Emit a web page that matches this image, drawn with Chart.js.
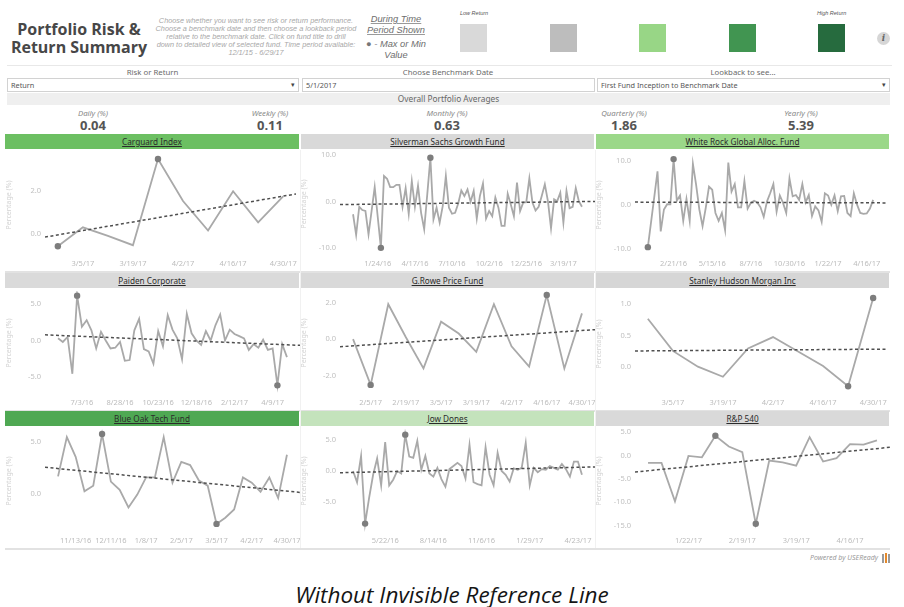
<!DOCTYPE html>
<html>
<head>
<meta charset="utf-8">
<script src="https://cdn.jsdelivr.net/npm/chart.js@4.4.1/dist/chart.umd.min.js"></script>
<style>
body{margin:0;background:#fff;width:904px;height:607px;position:relative;overflow:hidden;font-family:"Noto Sans",sans-serif;}
.a{position:absolute;}
#title{left:5px;top:20px;width:148px;text-align:center;font:bold 16px/18px "Open Sans";color:#474747;}
#desc{left:150px;top:16.5px;width:212px;text-align:center;font:italic 7.3px/8.2px "Liberation Sans";color:#a8a8a8;white-space:nowrap;}
#period{left:356px;top:14px;width:80px;text-align:center;font:italic 9.3px/10.5px "Liberation Sans";color:#6e6e6e;}
#period u{text-decoration-color:#9a9a9a;}
.lg{top:24px;width:27px;height:28px;}
.lgt{top:10px;font:italic 5.5px "Liberation Sans";color:#555;white-space:nowrap;}
#info{left:877px;top:32px;width:13px;height:13px;border-radius:50%;background:#d6d6d6;text-align:center;font:italic bold 9px/13px "DejaVu Serif";color:#666;}
.flab{top:67px;font:7.8px/10px "Noto Sans";color:#6a6a6a;text-align:center;}
.inp{top:78px;height:12px;border:1px solid #d2d2d2;font:7.3px/12px "Noto Sans";color:#555;padding-left:3px;box-sizing:content-box;}
.inp span{position:absolute;right:3px;top:0;font-size:7px;color:#444;}
#band{left:7px;top:93px;width:883px;height:12px;background:#efefef;text-align:center;font:8.3px/12px "Noto Sans";color:#666;}
.avl{top:108px;width:120px;text-align:center;font:italic 7.8px/10px "Noto Sans";color:#8a8a8a;}
.avv{top:117px;width:120px;text-align:center;font:bold 13px/16px "Open Sans";color:#555;}
.hdr{height:15px;text-align:center;font:8.2px/15px "Noto Sans";color:#2b2b2b;}
.hdr u{text-decoration-thickness:1px;}
.sep{height:2px;background:#e2e2e2;left:5px;width:885px;}
#powered{left:740px;top:553px;width:138px;text-align:right;font:italic 7px/10px "Noto Sans";color:#9a9a9a;}
#caption{left:0;top:580px;width:904px;text-align:center;font:italic 22.5px/30px "Open Sans";color:#151515;}
</style>
</head>
<body>
<div id="title" class="a">Portfolio Risk &amp;<br>Return Summary</div>
<div id="desc" class="a">Choose whether you want to see risk or return performance.<br>Choose a benchmark date and then choose a lookback period<br>relative to the benchmark date. Click on fund title to drill<br>down to detailed view of selected fund. Time period available:<br>12/1/15 - 6/29/17</div>
<div id="period" class="a"><u>During Time</u><br><u>Period Shown</u><div style="height:4px"></div><span style="font-style:normal;color:#777">&#9679;</span> - Max or Min<br>Value</div>

<div class="a lgt" style="left:460px">Low Return</div>
<div class="a lgt" style="left:817px">High Return</div>
<div class="a lg" style="left:460px;background:#d9d9d9"></div>
<div class="a lg" style="left:550px;background:#bdbdbd"></div>
<div class="a lg" style="left:639px;background:#98d686"></div>
<div class="a lg" style="left:729px;background:#419551"></div>
<div class="a lg" style="left:818px;background:#266b3e"></div>
<div id="info" class="a">i</div>

<div class="a" style="left:7px;top:65px;width:885px;height:1px;background:#e8e8e8"></div>
<div class="a flab" style="left:7px;width:291px">Risk or Return</div>
<div class="a flab" style="left:302px;width:292px">Choose Benchmark Date</div>
<div class="a flab" style="left:597px;width:292px">Lookback to see...</div>
<div class="a inp" style="left:7px;width:287px">Return<span>&#9662;</span></div>
<div class="a inp" style="left:302px;width:288px">5/1/2017</div>
<div class="a inp" style="left:597px;width:288px">First Fund Inception to Benchmark Date<span>&#9662;</span></div>
<div id="band" class="a">Overall Portfolio Averages</div>

<div id="avgs"></div>
<div id="panels"></div>

<div id="powered" class="a">Powered by USEReady</div>
<div class="a" style="left:882px;top:553px;width:8px;height:10px">
  <div class="a" style="left:0;top:1px;width:2px;height:9px;background:#9a9a9a"></div>
  <div class="a" style="left:3px;top:0;width:2px;height:10px;background:#e58a2c"></div>
  <div class="a" style="left:6px;top:1px;width:2px;height:9px;background:#9a9a9a"></div>
</div>
<div id="caption" class="a">Without Invisible Reference Line</div>

<script>
// portfolio averages
const avgLabels = ['Daily (%)', 'Weekly (%)', 'Monthly (%)', 'Quarterly (%)', 'Yearly (%)'];
const avgValues = ['0.04', '0.11', '0.63', '1.86', '5.39'];

// funds, in reading order
const fundNames = ['Carguard Index', 'Silverman Sachs Growth Fund', 'White Rock Global Alloc. Fund',
  'Paiden Corporate', 'G.Rowe Price Fund', 'Stanley Hudson Morgan Inc',
  'Blue Oak Tech Fund', 'Jow Dones', 'R&P 540'];
// first week of each weekly series
const fundStarts = ['2/26/17', '11/29/15', '12/27/15', '5/29/16', '1/29/17', '2/26/17', '10/30/16', '3/27/16', '1/1/17'];

// weekly returns (%)
const carguardReturns = [-0.58, 0.3, -0.1, -0.53, 3.47, 1.52, 0.15, 1.97, 0.53, 1.74];
const silvermanReturns = [-2.7, -7.1, -1.1, -1.8, -2.0, -7.0, -2.0, 3.1, -3.4, -9.9,
  5.5, 4.9, 3.1, 3.1, 3.6, 3.6, -1.1, 2.9, -2.6, 4.4,
  -1.1, 3.4, -2.4, -5.9, 1.6, 9.4, -3.8, -1.3, -4.5, -0.9,
  5.5, -1.3, -2.6, -2.4, -0.4, 2.4, 1.2, 2.6, 0.0, 2.3,
  -3.6, 1.2, 3.9, -3.6, -2.0, -3.1, 0.9, -1.3, -5.2, -5.2,
  1.7, -0.6, -3.1, 4.1, -2.0, -0.2, -0.1, 5.0, -0.2, -1.9,
  -1.1, 1.2, 3.7, 0.1, -5.7, 0.5, 0.1, 1.9, -4.5, 2.3,
  -1.4, -1.1, 2.9, 0.1, -1.1];
const whiteRockReturns = [-9.7, -4.0, 1.8, 7.6, -6.1, -1.1, 0.1, 0.1, 10.4, 0.9,
  2.1, -3.7, 1.3, -3.7, 9.3, 4.5, -1.1, -4.9, -0.7, 4.1,
  3.4, -1.9, -3.7, -1.9, -5.8, 9.6, 3.0, 4.7, -0.6, -0.6,
  5.4, -0.9, 0.4, 0.9, 0.5, -0.6, -2.8, 0.7, 2.6, 4.7,
  -1.6, 2.1, 0.4, -1.9, 6.0, 1.9, 2.2, 1.1, 4.7, 0.5,
  2.2, -2.6, -0.4, -1.3, -3.9, 2.6, 2.1, 0.0, 2.1, -1.5,
  1.9, 2.0, -1.9, -2.6, 2.6, 0.0, -1.9, -2.1, -2.0, -0.9, 1.1];
const paidenReturns = [0.3, -0.2, 0.5, -4.6, 6.2, 1.9, 2.8, 1.4, -1.1, 1.2,
  0.0, -1.1, -1.0, -0.2, -2.8, -2.7, 1.4, 3.0, -1.2, -1.5,
  -3.2, 1.3, -0.8, 3.5, 1.5, 0.3, -2.6, 3.7, 1.0, 0.0,
  -0.6, 1.3, 0.0, 2.1, 3.6, 0.0, 1.5, 0.9, 0.6, 0.3,
  -1.3, -0.5, -1.0, 0.1, -1.3, -1.1, -6.2, -0.5, -2.3];
const gRoweReturns = [0.0, -2.5, 1.9, 0.1, -1.6, 0.95, 0.3, -0.7, 1.9, -0.4, -1.5, 2.4, -1.6, 1.4];
const stanleyReturns = [0.77, 0.26, 0.01, -0.15, 0.30, 0.48, 0.25, 0.02, -0.30, 1.10];
const blueOakReturns = [1.7, 5.5, 3.6, 0.26, 0.8, 5.8, 1.2, 0.4, -1.3, -0.06,
  1.6, 1.6, 5.5, 1.1, 3.1, 2.8, 1.3, 0.8, -2.9, -2.3,
  -1.5, 1.6, 1.1, 0.2, 1.6, -0.4, 3.8];
const jowDonesReturns = [0, -1.8, 2.4, -8.4, -4.3, -0.6, 2.0, -2.3, 4.6, -2.3,
  -1.4, 0, -0.4, 5.8, 2.3, 2.1, 4.8, 0.2, 2.4, -0.4,
  -0.9, 0.5, -1.3, -2.5, 0.3, 0.8, 1.3, 0.8, -1.2, 4.2,
  -1.8, -2.1, -2.3, 3.8, -0.6, -2.3, 2.9, 0, -0.6, -1.7,
  0.4, 0.2, 0.5, 4.5, -2.3, 0.5, -0.2, 0.3, 0.2, 0.8,
  0.5, 0.2, 1.1, 0.3, -0.9, 1.5, 1.5, -0.6];
const rp540Returns = [-1.6, -1.6, -9.8, -0.1, -0.4, 4.2, 1.9, 0.7, -14.6, -1.1, -1.5, -2.2, 3.9, -1.3, -0.6, 2.4, 2.3, 3.2];

// x-axis date labels
const carguardTicks = ['3/5/17', '3/19/17', '4/2/17', '4/16/17', '4/30/17'];
const silvermanTicks = ['1/24/16', '4/17/16', '7/10/16', '10/2/16', '12/25/16', '3/19/17'];
const whiteRockTicks = ['2/21/16', '5/15/16', '8/7/16', '10/30/16', '1/22/17', '4/16/17'];
const paidenTicks = ['7/3/16', '8/28/16', '10/23/16', '12/18/16', '2/12/17', '4/9/17'];
const gRoweTicks = ['2/5/17', '2/19/17', '3/5/17', '3/19/17', '4/2/17', '4/16/17', '4/30/17'];
const stanleyTicks = ['3/5/17', '3/19/17', '4/2/17', '4/16/17', '4/30/17'];
const blueOakTicks = ['11/13/16', '12/11/16', '1/8/17', '2/5/17', '3/5/17', '4/2/17', '4/30/17'];
const jowDonesTicks = ['5/22/16', '8/14/16', '11/6/16', '1/29/17', '4/23/17'];
const rp540Ticks = ['1/22/17', '2/19/17', '3/19/17', '4/16/17'];

// y-axis tick values
const carguardY = [0, 2];
const silvermanY = [-10, 0, 10];
const whiteRockY = [-10, 0, 10];
const paidenY = [-5, 0, 5];
const gRoweY = [-2, 0, 2];
const stanleyY = [0, 0.5, 1];
const blueOakY = [0, 5];
const jowDonesY = [-5, 0, 5];
const rp540Y = [-15, -10, -5, 0, 5];

const allReturns = [carguardReturns, silvermanReturns, whiteRockReturns, paidenReturns, gRoweReturns,
  stanleyReturns, blueOakReturns, jowDonesReturns, rp540Returns];
const allTicks = [carguardTicks, silvermanTicks, whiteRockTicks, paidenTicks, gRoweTicks,
  stanleyTicks, blueOakTicks, jowDonesTicks, rp540Ticks];
const allY = [carguardY, silvermanY, whiteRockY, paidenY, gRoweY, stanleyY, blueOakY, jowDonesY, rp540Y];

// layout / style
const yRanges = [[-1.03, 3.7], [-11.65, 10.64], [-11.72, 11.57], [-7.53, 6.84], [-3.05, 2.62],
  [-0.44, 1.18], [-3.78, 6.29], [-9.9, 6.7], [-16.56, 5.64]];
const headerBg = ['#6cbf62', '#d9d9d9', '#9bd889', '#dadada', '#d9d9d9', '#d6d6d6', '#4fa853', '#c4e3bc', '#d9d9d9'];
const colLeft = [5, 300, 595];
const rowTop = [134, 273, 411];

let avgsEl = document.getElementById('avgs');
for (let i = 0; i < avgLabels.length; i++) {
  let cx = 93 + 177 * i;
  avgsEl.insertAdjacentHTML('beforeend',
    `<div class="a avl" style="left:${cx - 60}px">${avgLabels[i]}</div>` +
    `<div class="a avv" style="left:${cx - 60}px">${avgValues[i]}</div>`);
}

function toDay(s) {
  let p = s.split('/').map(Number);
  return Date.UTC(2000 + p[2], p[0] - 1, p[1]) / 864e5;
}

let panelsEl = document.getElementById('panels');
for (let r = 0; r < 3; r++) {
  panelsEl.insertAdjacentHTML('beforeend', `<div class="a sep" style="top:${rowTop[r] + 137}px"></div>`);
}
panelsEl.insertAdjacentHTML('beforeend',
  '<div class="a" style="left:300px;top:150px;width:1px;height:398px;background:#f1f1f1"></div>' +
  '<div class="a" style="left:595px;top:150px;width:1px;height:398px;background:#f1f1f1"></div>');

for (let f = 0; f < fundNames.length; f++) {
  let r = Math.floor(f / 3), c = f % 3;
  let left = colLeft[c], top = rowTop[r];
  let hl = c === 0 ? left : left + 1;
  let hw = c === 0 ? 294 : 293;
  panelsEl.insertAdjacentHTML('beforeend',
    `<div class="a hdr" style="left:${hl}px;top:${top}px;width:${hw}px;background:${headerBg[f]}"><u>${fundNames[f].replace('&', '&amp;')}</u></div>` +
    `<canvas id="c${f}" class="a" width="295" height="121" style="left:${left}px;top:${top + 16}px"></canvas>`);

  let values = allReturns[f];
  let n = values.length;
  let start = toDay(fundStarts[f]);
  let tickIdx = allTicks[f].map(t => (toDay(t) - start) / 7);
  let labelAt = {};
  tickIdx.forEach((v, i) => { labelAt[v] = allTicks[f][i]; });

  // least squares trend line over the weeks
  let mx = (n - 1) / 2;
  let my = values.reduce((a, b) => a + b, 0) / n;
  let sxy = 0, sxx = 0;
  values.forEach((v, i) => { sxy += (i - mx) * (v - my); sxx += (i - mx) * (i - mx); });
  let slope = sxy / sxx;
  let pad = 0.057 * (n - 1);
  let x0 = -pad, x1 = n - 1 + pad;
  let trend = [{x: x0, y: my + slope * (x0 - mx)}, {x: x1, y: my + slope * (x1 - mx)}];

  let vmax = Math.max(...values), vmin = Math.min(...values);
  let yt = allY[f];

  new Chart(document.getElementById('c' + f), {
    type: 'line',
    data: {
      datasets: [
        {
          data: trend,
          borderColor: '#4f4f4f',
          borderWidth: 1.5,
          borderDash: [3, 2.5],
          pointRadius: 0
        },
        {
          data: values.map((v, i) => ({x: i, y: v})),
          borderColor: '#a9a9a9',
          borderWidth: 1.8,
          tension: 0,
          pointRadius: ctx => (ctx.raw && (ctx.raw.y === vmax || ctx.raw.y === vmin)) ? 3.2 : 0,
          pointBackgroundColor: '#7d7d7d',
          pointBorderWidth: 0
        }
      ]
    },
    options: {
      responsive: false,
      animation: false,
      events: [],
      layout: {padding: {top: 2, left: 0, right: 0, bottom: 0}},
      plugins: {legend: {display: false}, tooltip: {enabled: false}},
      scales: {
        x: {
          type: 'linear',
          min: x0,
          max: x1,
          grid: {display: false, drawTicks: false},
          border: {display: false},
          afterBuildTicks: ax => { ax.ticks = tickIdx.map(v => ({value: v})); },
          afterFit: ax => { ax.height = 15; ax.paddingLeft = 0; ax.paddingRight = 0; },
          ticks: {
            color: '#bcbcbc',
            font: {size: 7.5, family: 'Noto Sans'},
            padding: 3,
            maxRotation: 0,
            autoSkip: false,
            callback: v => labelAt[v] || ''
          }
        },
        y: {
          min: yRanges[f][0],
          max: yRanges[f][1],
          grid: {display: false, drawTicks: false},
          border: {display: false},
          afterBuildTicks: ax => { ax.ticks = yt.map(v => ({value: v})); },
          afterFit: ax => { ax.width = 40; ax.paddingTop = 0; ax.paddingBottom = 0; },
          ticks: {
            color: '#c0c0c0',
            font: {size: 7.5, family: 'Noto Sans'},
            padding: 4,
            callback: v => v.toFixed(1)
          },
          title: {
            display: true,
            text: 'Percentage (%)',
            color: '#d2d2d2',
            font: {size: 7, family: 'Noto Sans'},
            padding: 0
          }
        }
      }
    }
  });
}
</script>
</body>
</html>
